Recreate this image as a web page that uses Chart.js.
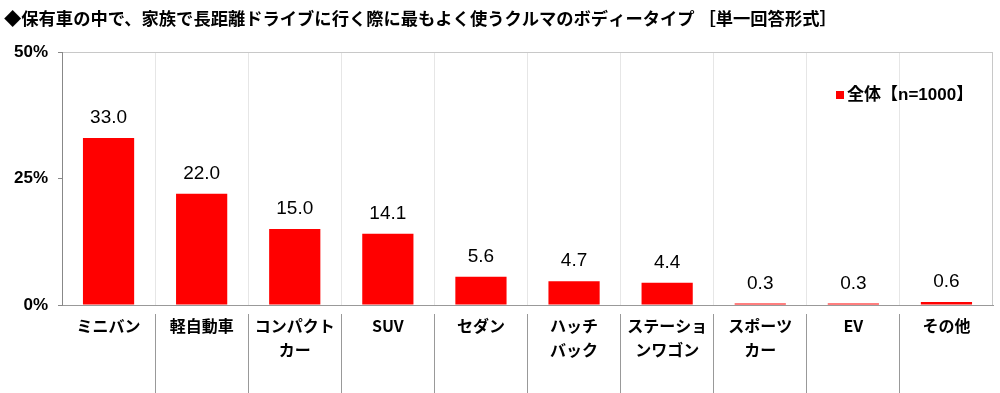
<!DOCTYPE html>
<html>
<head>
<meta charset="utf-8">
<script src="https://cdn.jsdelivr.net/npm/chart.js@4"></script>
<style>
html,body{margin:0;padding:0;background:#fff;}
#wrap{width:1000px;height:393px;}
</style>
</head>
<body>
<div id="wrap"><canvas id="c" width="1000" height="393"></canvas></div>
<script>
const TITLE = '◆保有車の中で、家族で長距離ドライブに行く際に最もよく使うクルマのボディータイプ ［単一回答形式］';
const SERIES_NAME = '全体【n=1000】';
const categories = [
  'ミニバン', '軽自動車', ['コンパクト', 'カー'], 'SUV', 'セダン',
  ['ハッチ', 'バック'], ['ステーショ', 'ンワゴン'], ['スポーツ', 'カー'], 'EV', 'その他'
];
const values = [33.0, 22.0, 15.0, 14.1, 5.6, 4.7, 4.4, 0.3, 0.3, 0.6];
const yTicks = [0, 25, 50];

const FONT = "'Liberation Sans', 'Noto Sans CJK JP', sans-serif";
const JFONT = "'Noto Sans CJK JP', 'Liberation Sans', sans-serif";

const decor = {
  id: 'decor',
  afterDatasetsDraw(chart) {
    const ctx = chart.ctx;
    const meta = chart.getDatasetMeta(0);
    ctx.save();
    ctx.fillStyle = '#000';
    ctx.font = '19px ' + FONT;
    ctx.textAlign = 'center';
    ctx.textBaseline = 'middle';
    meta.data.forEach((bar, i) => {
      ctx.fillText(values[i].toFixed(1), bar.x, bar.y - 20);
    });
    ctx.restore();
  },
  afterDraw(chart) {
    const ctx = chart.ctx;
    const ca = chart.chartArea;
    ctx.save();
    // title
    ctx.fillStyle = '#000';
    ctx.font = 'bold 17.3px ' + JFONT;
    ctx.textAlign = 'left';
    ctx.textBaseline = 'middle';
    ctx.fillText(TITLE, 4, 18);
    // legend
    const lx = ca.right - 157;
    ctx.fillStyle = '#ff0000';
    ctx.fillRect(lx, 91, 8, 8);
    ctx.fillStyle = '#000';
    ctx.font = 'bold 17px ' + FONT;
    ctx.fillText(SERIES_NAME, lx + 11, 95);
    ctx.restore();
  }
};

new Chart(document.getElementById('c'), {
  type: 'bar',
  data: {
    labels: categories,
    datasets: [{
      label: SERIES_NAME,
      data: values,
      backgroundColor: '#ff0000',
      borderWidth: 0,
      barPercentage: 0.55,
      categoryPercentage: 1.0
    }]
  },
  options: {
    responsive: false,
    animation: false,
    events: [],
    layout: { padding: { left: 5, top: 52, right: 7, bottom: 0 } },
    plugins: {
      legend: { display: false },
      title: { display: false },
      tooltip: { enabled: false }
    },
    scales: {
      x: {
        afterFit(s) { s.height = 88; },
        border: { color: '#999', width: 1 },
        grid: {
          offset: true,
          color: c => c.type === 'tick' ? (c.index === 0 ? 'rgba(0,0,0,0)' : '#e6e6e6') : '#c8c8c8',
          tickColor: c => (c.type === 'tick' && c.index > 0) ? '#999' : 'rgba(0,0,0,0)',
          tickLength: 88,
          tickBorderDash: [0, 8, 100, 0]
        },
        ticks: {
          autoSkip: false,
          maxRotation: 0,
          minRotation: 0,
          padding: -79,
          color: '#000',
          font: { family: JFONT, size: 16, weight: 'bold', lineHeight: 1.5 }
        }
      },
      y: {
        min: 0,
        max: 50,
        afterFit(s) { s.width = 57; },
        afterBuildTicks(s) { s.ticks = yTicks.map(v => ({ value: v })); },
        border: { color: '#888', width: 1 },
        grid: {
          drawOnChartArea: true,
          color: c => (c.tick && c.tick.value === 50) ? '#c8c8c8' : 'rgba(0,0,0,0)',
          tickColor: '#888',
          tickLength: 4
        },
        ticks: {
          padding: 10,
          color: '#000',
          font: { family: FONT, size: 17, weight: 'bold' },
          callback: v => v + '%'
        }
      }
    }
  },
  plugins: [decor]
});
</script>
</body>
</html>
